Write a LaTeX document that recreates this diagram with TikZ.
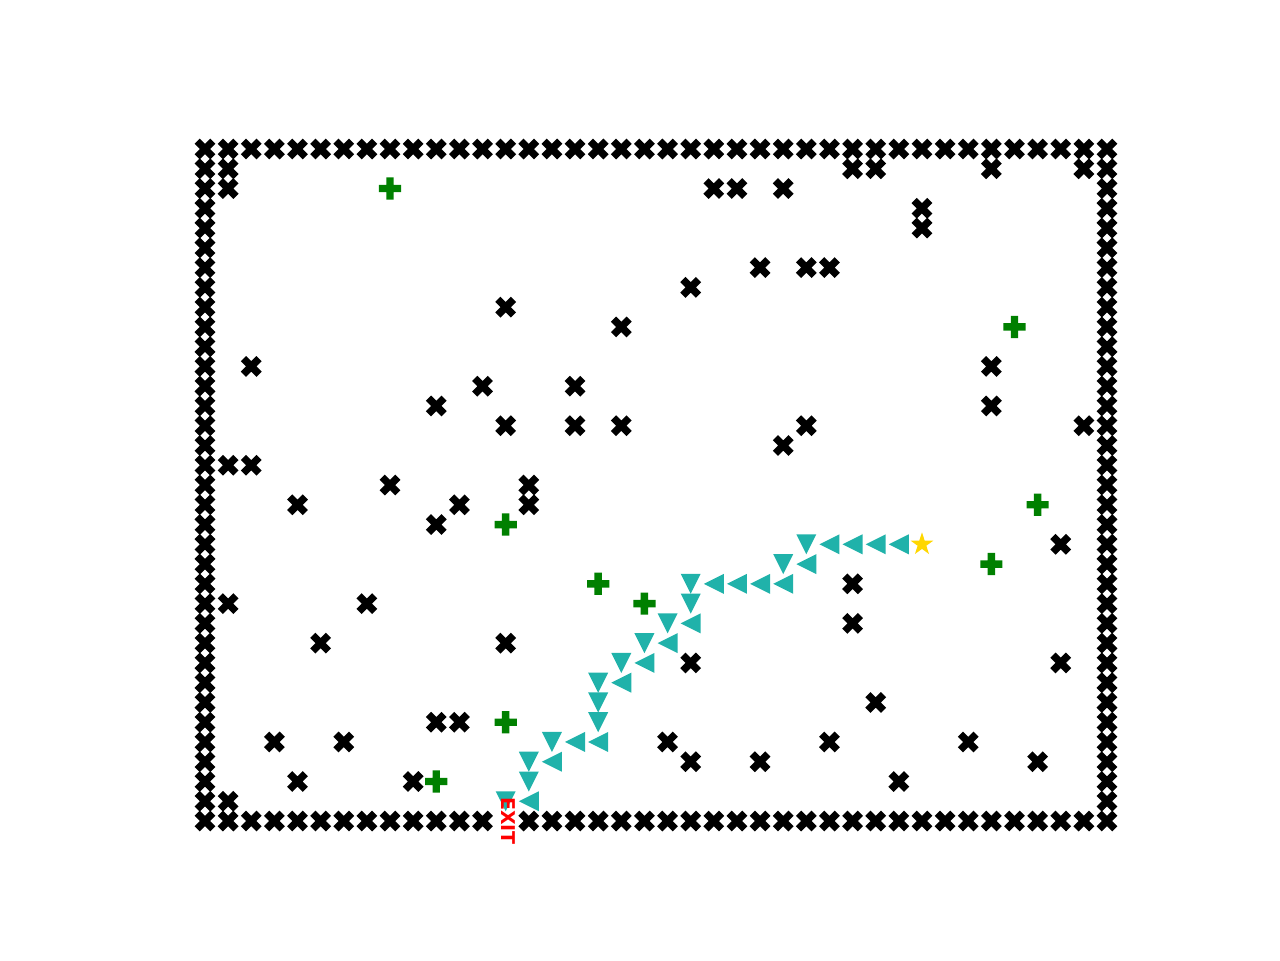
\documentclass[tikz,border=0pt]{standalone}
\usepackage{fontspec}
\newfontfamily\exitfont{DejaVu Sans}
\definecolor{pathteal}{RGB}{32,178,170}
\definecolor{bonusgreen}{RGB}{0,128,0}
\definecolor{startgold}{RGB}{255,215,0}
\tikzset{
  wall/.pic={\fill[black, x=0.052cm, y=0.052cm] (-1,-2) -- (0,-1) -- (1,-2) -- (2,-1) -- (1,0) -- (2,1)
    -- (1,2) -- (0,1) -- (-1,2) -- (-2,1) -- (-1,0) -- (-2,-1) -- cycle;},
  bonus/.pic={\fill[bonusgreen, x=0.037cm, y=0.037cm] (-1,-3) -- (-1,-1) -- (-3,-1) -- (-3,1) -- (-1,1) -- (-1,3)
    -- (1,3) -- (1,1) -- (3,1) -- (3,-1) -- (1,-1) -- (1,-3) -- cycle;},
  goleft/.pic={\fill[pathteal, x=0.1cm, y=0.1cm] (-1,0) -- (1,1) -- (1,-1) -- cycle;},
  godown/.pic={\fill[pathteal, x=0.1cm, y=0.1cm] (0,-1) -- (-1,1) -- (1,1) -- cycle;},
  start/.pic={\fill[startgold] (90:0.12cm) -- (126:0.046cm) -- (162:0.12cm) -- (198:0.046cm) -- (234:0.12cm)
    -- (270:0.046cm) -- (306:0.12cm) -- (342:0.046cm) -- (18:0.12cm) -- (54:0.046cm) -- cycle;},
}
\begin{document}
\begin{tikzpicture}[x=0.23128cm, y=-0.19765cm]
\useasboundingbox (-2.05cm,1.49cm) rectangle (10.75cm,-8.11cm);

% Outer walls (gap at the exit)
\foreach \c in {0,...,39} {
  \pic at (\c,0) {wall};
  \ifnum\c=13\else \pic at (\c,34) {wall};\fi
}
\foreach \r in {1,...,33} {
  \pic at (0,\r) {wall};
  \pic at (39,\r) {wall};
}

% Inner walls
\foreach \c/\r in {
  1/1, 1/2, 28/1, 29/1, 34/1, 38/1,
  22/2, 23/2, 25/2, 31/3, 31/4,
  24/6, 26/6, 27/6, 21/7, 13/8, 18/9,
  2/11, 34/11, 12/12, 16/12, 10/13, 34/13,
  13/14, 16/14, 18/14, 26/14, 38/14, 25/15,
  1/16, 2/16, 8/17, 14/17, 14/18, 4/18, 11/18,
  10/19, 37/20, 28/22, 1/23, 7/23, 28/24,
  5/25, 13/25, 21/26, 37/26, 29/28,
  10/29, 11/29, 3/30, 6/30, 20/30, 27/30, 33/30,
  21/31, 24/31, 36/31, 4/32, 9/32, 30/32, 1/33
} {
  \pic at (\c,\r) {wall};
}

% Bonus cells
\foreach \c/\r in {8/2, 35/9, 36/18, 13/19, 34/21, 17/22, 19/23, 13/29, 10/32} {
  \pic at (\c,\r) {bonus};
}

% Path to the exit
\foreach \c/\r/\d in {
  30/20/goleft, 29/20/goleft, 28/20/goleft, 27/20/goleft, 26/20/godown,
  26/21/goleft, 25/21/godown,
  25/22/goleft, 24/22/goleft, 23/22/goleft, 22/22/goleft, 21/22/godown,
  21/23/godown,
  21/24/goleft, 20/24/godown,
  20/25/goleft, 19/25/godown,
  19/26/goleft, 18/26/godown,
  18/27/goleft, 17/27/godown,
  17/28/godown, 17/29/godown,
  17/30/goleft, 16/30/goleft, 15/30/godown,
  15/31/goleft, 14/31/godown,
  14/32/godown,
  14/33/goleft, 13/33/godown} {
  \pic at (\c,\r) {\d};
}

% Start
\pic at (31,20) {start};

% Exit label
\node[red, rotate=-90, inner sep=0pt, font=\exitfont\bfseries\fontsize{5.4}{6}\selectfont] (exit) at (13.1,34) {EXIT};
\end{tikzpicture}
\end{document}
